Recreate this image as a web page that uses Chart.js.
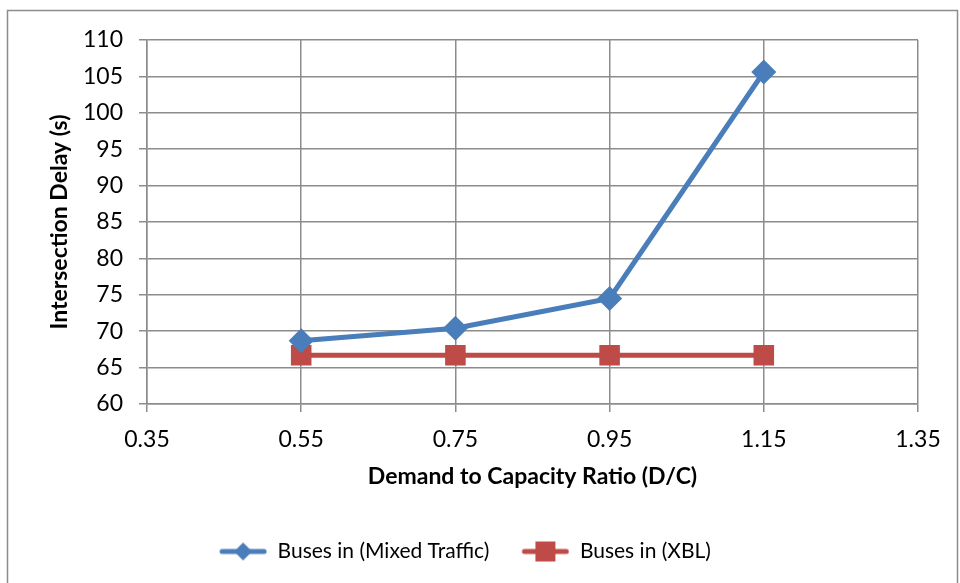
<!DOCTYPE html>
<html>
<head>
<meta charset="utf-8">
<script src="https://cdn.jsdelivr.net/npm/chart.js@4.4.1/dist/chart.umd.min.js"></script>
<style>
  html, body { margin: 0; padding: 0; background: #fff; }
  #wrap { width: 960px; height: 583px; position: relative; }
</style>
</head>
<body>
<div id="wrap"><canvas id="delayChart" width="960" height="583"></canvas></div>
<script>
// data
const dcRatio = [0.55, 0.75, 0.95, 1.15];
const mixedTraffic = [68.7, 70.4, 74.5, 105.6];
const xblDelay = [66.7, 66.7, 66.7, 66.7];
const xTickValues = [0.35, 0.55, 0.75, 0.95, 1.15, 1.35];
const seriesNames = ["Buses in (Mixed Traffic)", "Buses in (XBL)"];
const xTitle = "Demand to Capacity Ratio (D/C)";
const yTitle = "Intersection Delay (s)";

const BLUE = "#4A7EBB";
const RED = "#BE4B48";
const GRID = "#8C8C8C";
const FONT = "Lato, 'Open Sans', sans-serif";
const ICON_W = 60;

// legend icon: line with marker, drawn at the right end of the box
function legendIcon(color, shape) {
  const c = document.createElement("canvas");
  c.width = ICON_W; c.height = 22;
  const g = c.getContext("2d");
  const x0 = ICON_W - 48, cx = ICON_W - 24;
  g.strokeStyle = color;
  g.lineWidth = 5;
  g.lineCap = "round";
  g.beginPath();
  g.moveTo(x0 + 3, 11); g.lineTo(ICON_W - 3, 11);
  g.stroke();
  g.fillStyle = color;
  if (shape === "diamond") {
    g.beginPath();
    g.moveTo(cx, 2); g.lineTo(cx + 9, 11); g.lineTo(cx, 20); g.lineTo(cx - 9, 11);
    g.closePath();
    g.fill();
  } else {
    g.fillRect(cx - 10, 1, 20, 20);
  }
  return c;
}

const outerBorder = {
  id: "outerBorder",
  beforeDraw: (chart) => {
    const ctx = chart.ctx;
    ctx.save();
    ctx.fillStyle = "#fff";
    ctx.fillRect(0, 0, chart.width, chart.height);
    ctx.strokeStyle = "#8C8C8C";
    ctx.lineWidth = 1.5;
    ctx.strokeRect(7.5, 10.5, 950, 580);
    ctx.restore();
  },
};

const icons = [legendIcon(BLUE, "diamond"), legendIcon(RED, "square")];

new Chart(document.getElementById("delayChart"), {
  type: "line",
  data: {
    datasets: [
      {
        label: seriesNames[0],
        data: dcRatio.map((x, i) => ({ x: x, y: mixedTraffic[i] })),
        borderColor: BLUE,
        backgroundColor: BLUE,
        borderWidth: 5,
        pointStyle: "rectRot",
        pointRadius: 9,
        pointHoverRadius: 9,
        tension: 0,
      },
      {
        label: seriesNames[1],
        data: dcRatio.map((x, i) => ({ x: x, y: xblDelay[i] })),
        borderColor: RED,
        backgroundColor: RED,
        borderWidth: 5,
        pointStyle: "rect",
        pointRadius: 11,
        pointHoverRadius: 11,
        tension: 0,
      },
    ],
  },
  plugins: [outerBorder],
  options: {
    responsive: false,
    animation: false,
    layout: { padding: { left: 0, top: 40, right: 42, bottom: 11 } },
    plugins: {
      tooltip: { enabled: false },
      legend: {
        position: "bottom",
        labels: {
          usePointStyle: true,
          pointStyleWidth: ICON_W,
          color: "#000",
          font: { family: FONT, size: 21 },
          padding: 20,
          generateLabels: (chart) =>
            chart.data.datasets.map((ds, i) => ({
              text: ds.label,
              pointStyle: icons[i],
              datasetIndex: i,
              fontColor: "#000",
            })),
        },
      },
    },
    scales: {
      x: {
        type: "linear",
        min: 0.35,
        max: 1.35,
        afterFit: (axis) => { axis.height = 117; },
        afterBuildTicks: (axis) => {
          axis.ticks = xTickValues.map((v) => ({ value: v }));
        },
        ticks: {
          color: "#000",
          font: { family: FONT, size: 23 },
          padding: 14,
          callback: (v) => v.toFixed(2),
        },
        grid: { color: GRID, lineWidth: 1.5, tickLength: 8 },
        border: { color: GRID, width: 1.5 },
        title: {
          display: true,
          text: xTitle,
          color: "#000",
          font: { family: FONT, size: 23, weight: "bold" },
          padding: { top: 0, bottom: 31 },
        },
      },
      y: {
        min: 60,
        max: 110,
        afterFit: (axis) => { axis.width = 147; },
        ticks: {
          stepSize: 5,
          color: "#000",
          font: { family: FONT, size: 23 },
          padding: 16,
        },
        grid: { color: GRID, lineWidth: 1.5, tickLength: 8 },
        border: { color: GRID, width: 1.5 },
        title: {
          display: true,
          text: yTitle,
          color: "#000",
          font: { family: FONT, size: 23, weight: "bold" },
          padding: { top: 46, bottom: 0 },
        },
      },
    },
  },
});
</script>
</body>
</html>
